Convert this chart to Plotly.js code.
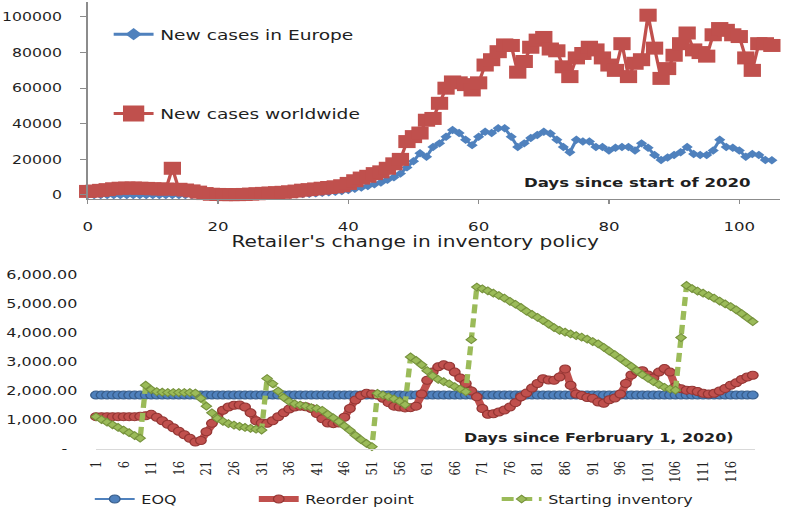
<!DOCTYPE html>
<html>
<head>
<meta charset="utf-8">
<script src="https://cdn.plot.ly/plotly-3.0.1.min.js"></script>
<style>
html,body{margin:0;padding:0;background:#fff;overflow:hidden;width:787px;height:508px;}
#chart{width:592px;height:508px;transform:scaleX(1.3294);transform-origin:0 0;}
</style>
</head>
<body>
<div id="chart"></div>
<script>
// ---- Top chart data (days since start of 2020) ----
const topDays = [0,1,2,3,4,5,6,7,8,9,10,11,12,13,14,15,16,17,18,19,20,21,22,23,24,25,26,27,28,29,30,31,32,33,34,35,36,37,38,39,40,41,42,43,44,45,46,47,48,49,50,51,52,53,54,55,56,57,58,59,60,61,62,63,64,65,66,67,68,69,70,71,72,73,74,75,76,77,78,79,80,81,82,83,84,85,86,87,88,89,90,91,92,93,94,95,96,97,98,99,100,101,102,103,104,105];
const europeCases = [0,0,0,0,0,0,0,0,0,0,0,0,0,0,0,0,0,0,0,0,0,10,20,30,40,50,60,80,100,150,250,300,400,500,700,900,1200,1500,1800,2200,2800,3500,4200,5000,6000,7000,8500,10000,12000,15500,19000,23500,21500,27000,29000,32700,36500,34800,31000,28000,32700,35500,34800,37500,37500,32700,27000,29000,32000,33700,35500,34500,31000,27000,24000,31000,30000,30000,27000,27000,25000,26500,27000,27000,25000,29000,26500,22500,19700,21000,22500,24000,27000,23000,22500,22500,25000,31000,27000,26500,25000,21500,23000,22500,19700,19500];
const worldCases = [2000,2200,2600,3000,3500,3800,3900,3900,3800,3700,3500,3400,3300,15000,3200,2800,2300,1600,800,400,300,200,200,200,300,500,700,900,1100,1300,1500,1800,2200,2700,3000,3400,3800,4200,4600,5200,6500,8000,9500,10500,12000,13000,15000,17500,20000,30000,32800,34800,42000,43000,51500,60000,63500,63000,62000,59000,63000,73000,76000,80500,84300,84000,69000,75000,83000,87000,88500,82000,81000,72000,66500,77000,79500,83000,81500,77000,73000,70000,85000,66500,74000,76000,101000,82500,65500,71000,78500,85000,91000,81500,80000,78000,90000,93500,92500,90000,89000,77000,70000,85000,85000,84000];
const topXTicks = [0,20,40,60,80,100];
const topYTicks = [0,20000,40000,60000,80000,100000];

// ---- Bottom chart data (days since February 1, 2020) ----
const bottomDays = [1,2,3,4,5,6,7,8,9,10,11,12,13,14,15,16,17,18,19,20,21,22,23,24,25,26,27,28,29,30,31,32,33,34,35,36,37,38,39,40,41,42,43,44,45,46,47,48,49,50,51,52,53,54,55,56,57,58,59,60,61,62,63,64,65,66,67,68,69,70,71,72,73,74,75,76,77,78,79,80,81,82,83,84,85,86,87,88,89,90,91,92,93,94,95,96,97,98,99,100,101,102,103,104,105,106,107,108,109,110,111,112,113,114,115,116,117,118,119,120];
const eoq = [1860,1860,1860,1860,1860,1860,1860,1860,1860,1860,1860,1860,1860,1860,1860,1860,1860,1860,1860,1860,1860,1860,1860,1860,1860,1860,1860,1860,1860,1860,1860,1860,1860,1860,1860,1860,1860,1860,1860,1860,1860,1860,1860,1860,1860,1860,1860,1860,1860,1860,1860,1860,1860,1860,1860,1860,1860,1860,1860,1860,1860,1860,1860,1860,1860,1860,1860,1860,1860,1860,1860,1860,1860,1860,1860,1860,1860,1860,1860,1860,1860,1860,1860,1860,1860,1860,1860,1860,1860,1860,1860,1860,1860,1860,1860,1860,1860,1860,1860,1860,1860,1860,1860,1860,1860,1860,1860,1860,1860,1860,1860,1860,1860,1860,1860,1860,1860,1860,1860,1860];
const reorderPoint = [1120,1120,1120,1120,1120,1120,1120,1120,1130,1150,
1200,1100,980,860,740,620,500,380,250,300,
600,890,1100,1340,1450,1510,1520,1450,1250,980,
900,890,980,1117,1250,1380,1450,1480,1460,1400,
1230,1050,900,880,900,1100,1400,1690,1850,1920,
1900,1860,1750,1600,1480,1450,1420,1430,1480,1900,
2370,2650,2830,2900,2850,2650,2450,2260,2000,1800,
1400,1200,1220,1280,1350,1450,1600,1800,1930,2100,
2260,2420,2380,2370,2480,2760,2200,1900,1850,1780,
1750,1620,1580,1700,1760,1900,2260,2550,2680,2700,
2550,2450,2650,2770,2650,2150,2080,2030,2030,1980,
1920,1900,1920,2000,2090,2200,2280,2400,2480,2540];
const startingInventory = [1117,1020,930,840,750,660,570,470,380,2200,
2050,1980,1960,1950,1950,1950,1950,1950,1930,1750,
1480,1250,1060,960,880,830,790,750,720,690,
660,2430,2250,2000,1780,1640,1560,1520,1480,1430,
1400,1340,1200,1080,950,800,650,480,330,200,
90,1920,1860,1800,1730,1650,1530,3170,3050,2900,
2700,2520,2400,2320,2250,2150,2070,1975,3765,5570,
5510,5440,5360,5280,5190,5080,4980,4870,4740,4630,
4530,4420,4300,4180,4080,4020,3960,3900,3850,3780,
3700,3620,3500,3370,3250,3120,2980,2850,2700,2560,
2440,2320,2220,2130,2070,2030,3835,5625,5520,5430,
5360,5280,5190,5090,4990,4900,4790,4660,4520,4380];
const bottomXTickVals = [1,6,11,16,21,26,31,36,41,46,51,56,61,66,71,76,81,86,91,96,101,106,111,116];
const bottomXTickText = ["1","6","11","16","21","26","31","36","41","46","51","56","61","66","71","76","81","86","91","96","101","106","111","116"];
const bottomYTickVals = [0,1000,2000,3000,4000,5000,6000];
const bottomYTickText = ["-\u00a0\u00a0","1,000.00","2,000.00","3,000.00","4,000.00","5,000.00","6,000.00"];

const TXT = '#1f1f1f';
const SANS = 'DejaVu Sans';
const BLUE = '#4F81BD', RED = '#C0504D', GREEN = '#9BBB59';

const traces = [
  {x: topDays, y: europeCases, xaxis:'x', yaxis:'y', type:'scatter', mode:'lines+markers',
   name:'New cases in Europe', showlegend:false, cliponaxis:false,
   line:{color:BLUE, width:2.5}, marker:{symbol:'diamond', size:6.5, color:BLUE}},
  {x: topDays, y: worldCases, xaxis:'x', yaxis:'y', type:'scatter', mode:'lines+markers',
   name:'New cases worldwide', showlegend:false, cliponaxis:false,
   line:{color:RED, width:2.5}, marker:{symbol:'square', size:13, color:RED}},
  // legend keys for the top chart (no data, legend only, larger Excel-like keys)
  {x:[null], y:[null], xaxis:'x', yaxis:'y', type:'scatter', mode:'lines+markers',
   name:'New cases in Europe', legend:'legend',
   line:{color:BLUE, width:3}, marker:{symbol:'diamond', size:9.5, color:BLUE}},
  {x:[null], y:[null], xaxis:'x', yaxis:'y', type:'scatter', mode:'lines+markers',
   name:'New cases worldwide', legend:'legend2',
   line:{color:RED, width:3}, marker:{symbol:'square', size:16, color:RED}},
  {x: bottomDays, y: eoq, xaxis:'x2', yaxis:'y2', type:'scatter', mode:'lines+markers',
   name:'EOQ', legend:'legend3', cliponaxis:false,
   line:{color:BLUE, width:2}, marker:{symbol:'circle', size:8, color:BLUE, line:{width:1, color:'#385D8A'}}},
  {x: bottomDays, y: reorderPoint, xaxis:'x2', yaxis:'y2', type:'scatter', mode:'lines+markers',
   name:'Reorder point', legend:'legend4', cliponaxis:false,
   line:{color:RED, width:6}, marker:{symbol:'circle', size:8, color:RED, line:{width:1, color:'#943634'}}},
  {x: bottomDays, y: startingInventory, xaxis:'x2', yaxis:'y2', type:'scatter', mode:'lines+markers',
   name:'Starting inventory', legend:'legend5', cliponaxis:false,
   line:{color:GREEN, width:4, dash:'9px,5px'}, marker:{symbol:'diamond', size:6, color:GREEN, line:{width:1, color:'#76923C'}}}
];

function leg(x, y, size){
  return {x:x, y:y, xanchor:'left', yanchor:'middle', xref:'paper', yref:'paper',
    bgcolor:'rgba(0,0,0,0)', borderwidth:0, font:{family:SANS, size:size, color:TXT}};
}

const layout = {
  width:592, height:508, autosize:false,
  margin:{l:0, r:0, t:0, b:0, pad:0, autoexpand:false},
  paper_bgcolor:'#fff', plot_bgcolor:'rgba(0,0,0,0)',
  font:{family:SANS, color:TXT},
  xaxis:{domain:[0.1114, 0.9911], range:[0, 106.25], anchor:'y',
    showline:true, linecolor:'#8c8c8c', linewidth:1, ticks:'outside', ticklen:4, tickcolor:'#8c8c8c',
    tickvals:topXTicks, showgrid:false, zeroline:false, ticklabelstandoff:12,
    tickfont:{family:SANS, size:12.5, color:TXT}},
  yaxis:{domain:[0.6083, 0.9961], range:[-2247, 108427], anchor:'x',
    showline:true, linecolor:'#8c8c8c', linewidth:1, ticks:'outside', ticklen:5, tickcolor:'#8c8c8c',
    tickvals:topYTicks, tickformat:'d', showgrid:false, zeroline:false, ticklabelstandoff:11,
    tickfont:{family:SANS, size:11.8, color:TXT}},
  xaxis2:{domain:[0.122, 0.9593], range:[1, 120.4], anchor:'y2',
    showline:true, linecolor:'#d9d9d9', linewidth:1, ticks:'',
    tickvals:bottomXTickVals, ticktext:bottomXTickText, tickangle:-90,
    showgrid:false, zeroline:false, ticklabelstandoff:6,
    tickfont:{family:'DejaVu Serif', size:11.5, color:TXT}},
  yaxis2:{domain:[0.1156, 0.4783], range:[0, 6327], anchor:'x2',
    showline:false, ticks:'', tickvals:bottomYTickVals, ticktext:bottomYTickText,
    showgrid:false, zeroline:false, ticklabelstandoff:13,
    tickfont:{family:SANS, size:12, color:TXT}},
  legend: leg(0.136, 0.932, 14),
  legend2: leg(0.136, 0.7756, 14),
  legend3: leg(0.112, 0.0177, 12),
  legend4: leg(0.3204, 0.0177, 12),
  legend5: leg(0.629, 0.0177, 12),
  annotations:[
    {text:'Days since start of 2020', xref:'paper', yref:'paper', x:0.8107, y:0.6404,
     xanchor:'center', yanchor:'middle', showarrow:false,
     font:{family:SANS, size:12.5, color:TXT, weight:'bold'}},
    {text:"Retailer's change in inventory policy", xref:'paper', yref:'paper', x:0.528, y:0.5236,
     xanchor:'center', yanchor:'middle', showarrow:false,
     font:{family:SANS, size:15.2, color:TXT}},
    {text:'Days since Ferbruary 1, 2020)', xref:'paper', yref:'paper', x:0.7605, y:0.1372,
     xanchor:'center', yanchor:'middle', showarrow:false,
     font:{family:SANS, size:12, color:TXT, weight:'bold'}}
  ],
  showlegend:true
};

Plotly.newPlot('chart', traces, layout, {staticPlot:true, displayModeBar:false, responsive:false});
</script>
</body>
</html>
